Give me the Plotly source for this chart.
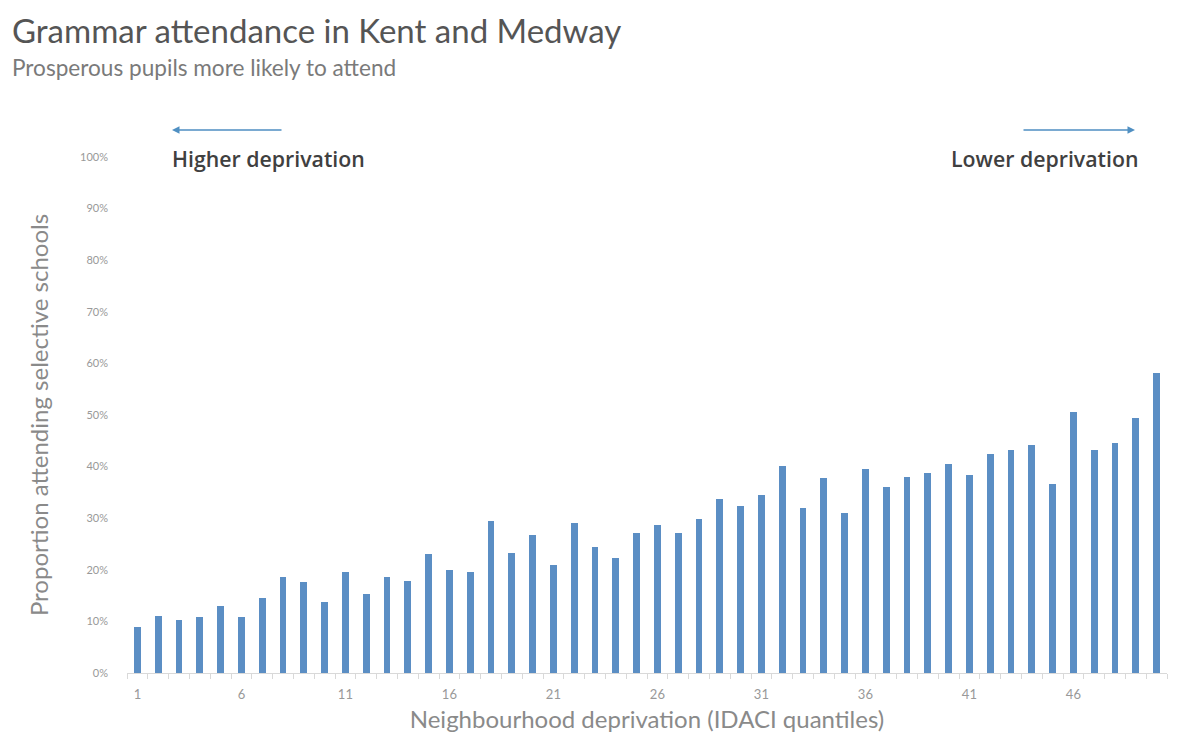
import plotly.graph_objects as go

quantiles = list(range(1, 51))
attendance_pct = [
    9.0, 11.0, 10.2, 10.8, 13.0, 10.8, 14.6, 18.6, 17.6, 13.7,
    19.5, 15.4, 18.6, 17.9, 23.1, 19.9, 19.5, 29.4, 23.2, 26.8,
    20.9, 29.0, 24.5, 22.2, 27.1, 28.6, 27.1, 29.8, 33.7, 32.3,
    34.5, 40.1, 31.9, 37.7, 31.1, 39.6, 36.0, 38.0, 38.7, 40.6,
    38.4, 42.5, 43.2, 44.1, 36.7, 50.5, 43.2, 44.6, 49.4, 58.2,
]
x_tick_vals = [1, 6, 11, 16, 21, 26, 31, 36, 41, 46]
y_tick_vals = [0, 10, 20, 30, 40, 50, 60, 70, 80, 90, 100]

title_text = "Grammar attendance in Kent and Medway"
subtitle_text = "Prosperous pupils more likely to attend"
x_title = "Neighbourhood deprivation (IDACI quantiles)"
y_title = "Proportion attending selective schools"
left_label = "Higher deprivation"
right_label = "Lower deprivation"

BAR = "#5b8ec4"
ARROW = "#4f8fc2"

fig = go.Figure(go.Bar(
    x=quantiles, y=attendance_pct, width=0.33,
    marker=dict(color=BAR, line=dict(width=0)),
))

L, R, T, B = 127, 13, 157, 72
W, H = 1180, 745

def px_x(p):
    return (p - L) / (W - L - R)

def px_y(p):
    return 1 - (p - T) / (H - T - B)

fig.update_layout(
    width=W, height=H,
    margin=dict(l=L, r=R, t=T, b=B),
    paper_bgcolor="white", plot_bgcolor="white",
    showlegend=False,
    bargap=0,
    font=dict(family="Lato", color="#888888"),
    xaxis=dict(
        range=[0.5, 50.5], tickmode="array", tickvals=x_tick_vals,
        ticktext=[str(v) for v in x_tick_vals],
        showgrid=False, zeroline=False,
        showline=True, linecolor="#d9d9d9", linewidth=1,
        ticks="", ticklabelstandoff=9,
        tickfont=dict(size=13, color="#999999", family="Lato"),
        minor=dict(tick0=0.5, dtick=1, ticks="outside", ticklen=5, tickcolor="#d9d9d9", showgrid=False),
        title=dict(text=x_title, font=dict(size=24, color="#8a8a8a", family="Lato"), standoff=10),
    ),
    yaxis=dict(
        range=[0, 100], tickmode="array", tickvals=y_tick_vals,
        ticktext=[f"{v}%" for v in y_tick_vals],
        showgrid=False, zeroline=False, showline=False, ticks="",
        ticklabelstandoff=18,
        tickfont=dict(size=11, color="#999999", family="Lato"),
        title=dict(text=y_title, font=dict(size=24, color="#8a8a8a", family="Lato"), standoff=24),
    ),
)

annotations = [
    dict(xref="paper", yref="paper", x=px_x(10), y=px_y(30), xanchor="left", yanchor="middle",
         text=title_text, showarrow=False, font=dict(size=33, color="#555555", family="Lato")),
    dict(xref="paper", yref="paper", x=px_x(10), y=px_y(68), xanchor="left", yanchor="middle",
         text=subtitle_text, showarrow=False, font=dict(size=22.6, color="#7a7a7a", family="Lato")),
    dict(xref="paper", yref="paper", x=px_x(170), y=px_y(158), xanchor="left", yanchor="middle",
         text=left_label, showarrow=False, font=dict(size=21.3, color="#404040", family="Open Sans", weight=600)),
    dict(xref="paper", yref="paper", x=px_x(1140), y=px_y(158), xanchor="right", yanchor="middle",
         text=right_label, showarrow=False, font=dict(size=21.3, color="#404040", family="Open Sans", weight=600)),
    dict(xref="paper", yref="paper", x=px_x(172), y=px_y(130), ax=111, ay=0, text="",
         showarrow=True, arrowhead=2, arrowsize=1, arrowwidth=1.5, arrowcolor=ARROW),
    dict(xref="paper", yref="paper", x=px_x(1135), y=px_y(130), ax=-113, ay=0, text="",
         showarrow=True, arrowhead=2, arrowsize=1, arrowwidth=1.5, arrowcolor=ARROW),
]
fig.update_layout(annotations=annotations)

fig.write_html("out.html")
